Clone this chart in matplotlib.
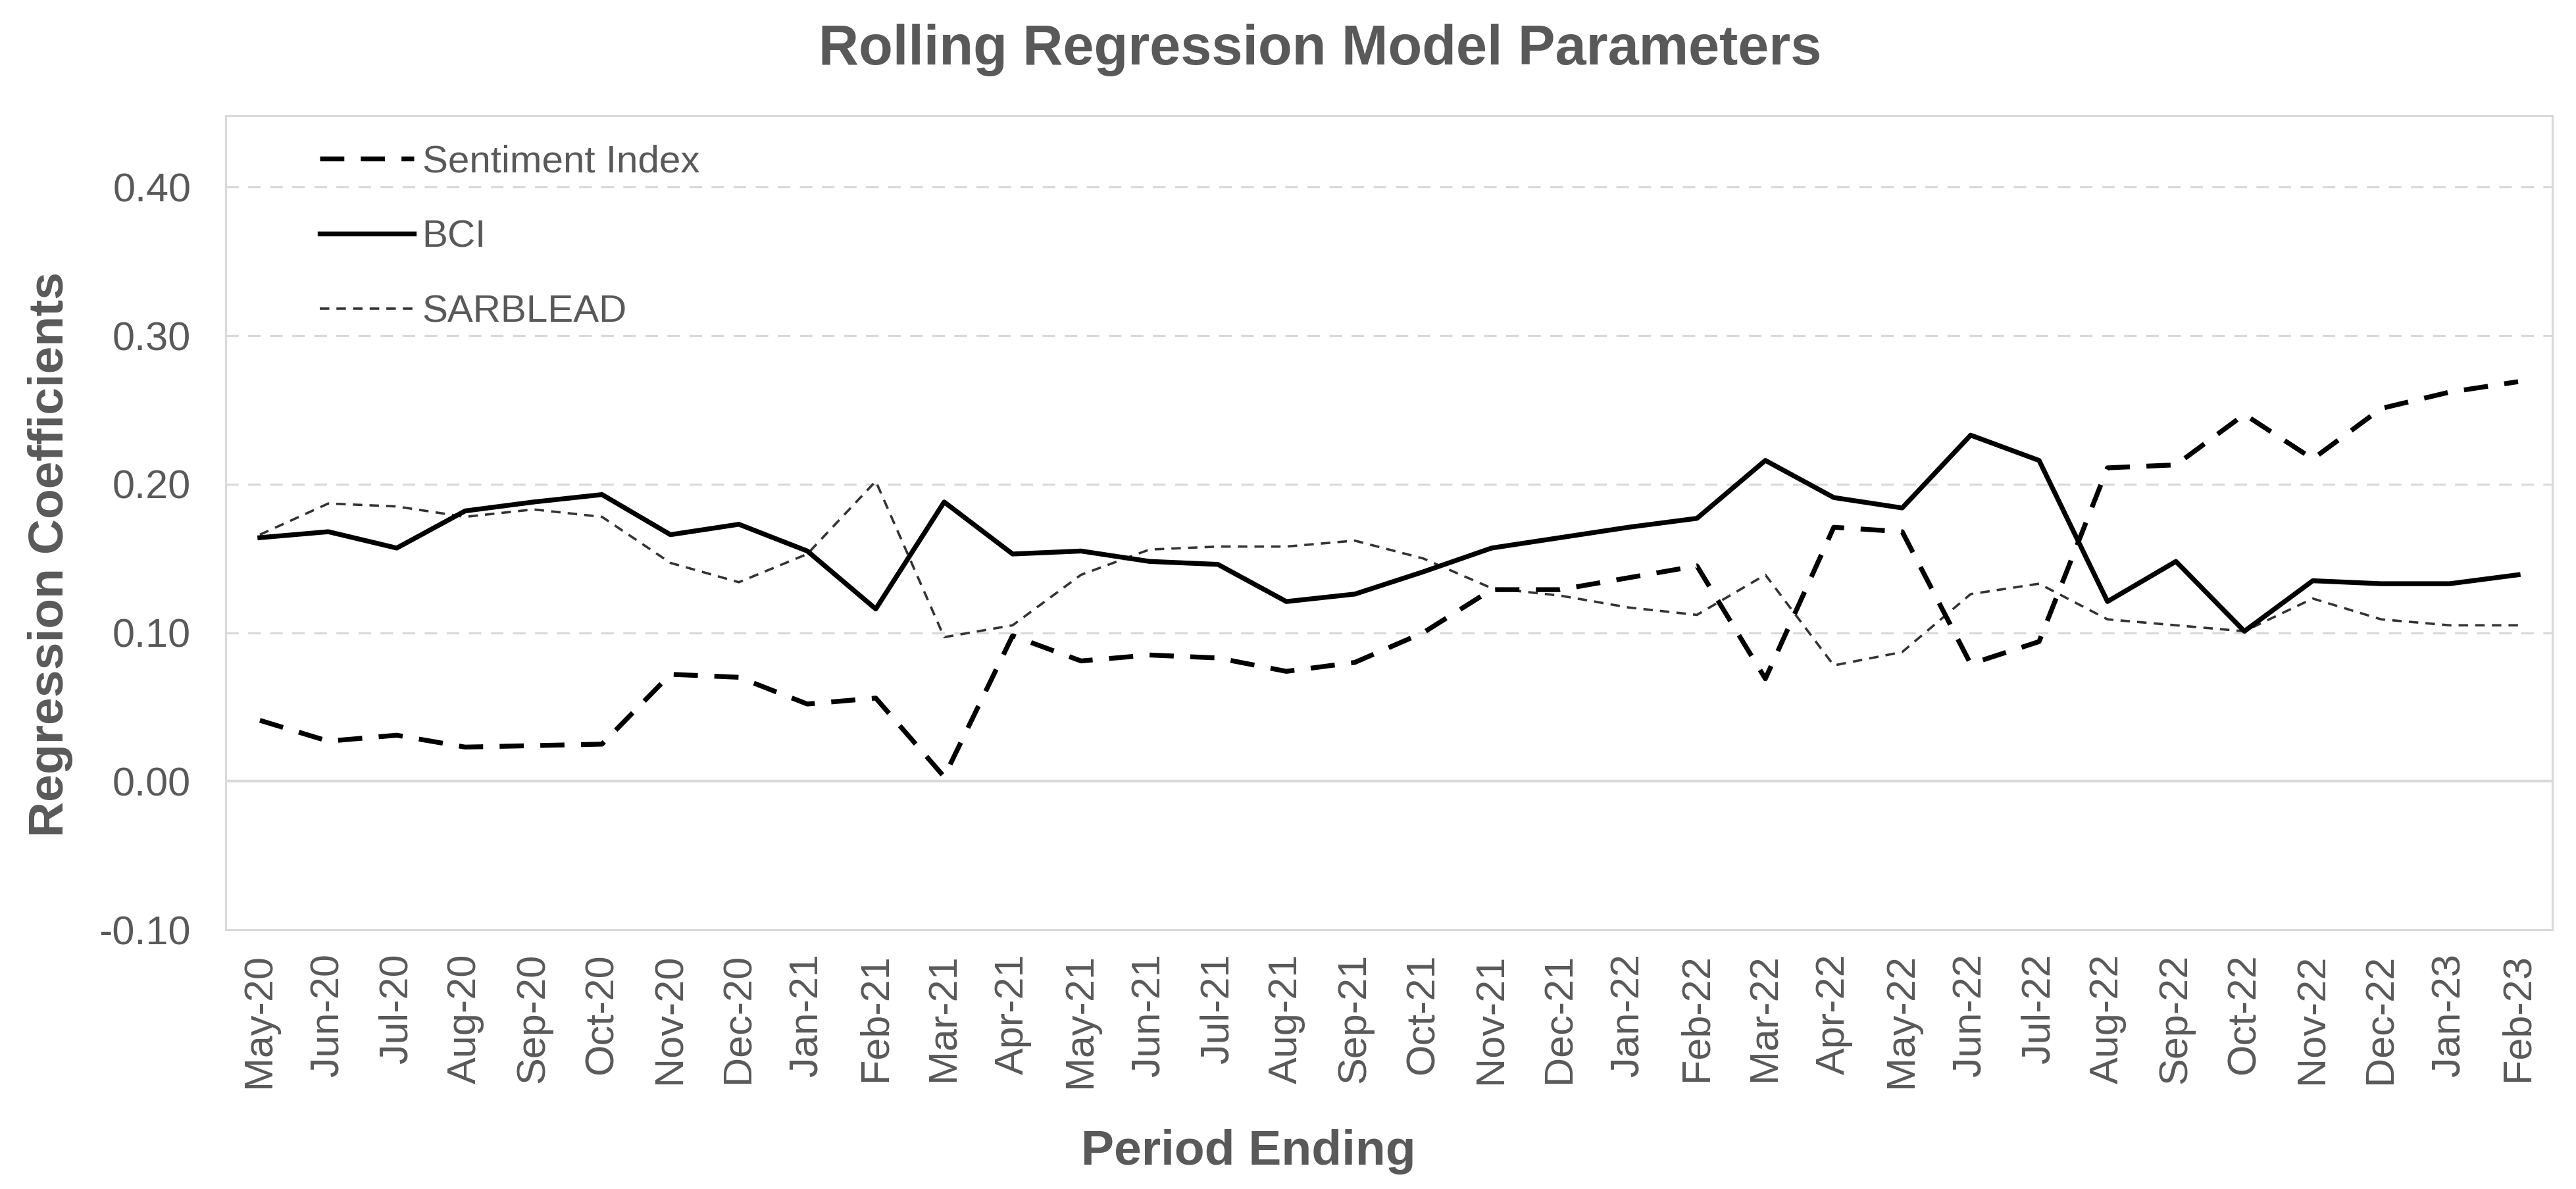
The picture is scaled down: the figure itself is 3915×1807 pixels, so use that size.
import matplotlib
matplotlib.use("Agg")
import matplotlib.pyplot as plt
import numpy as np

plt.rcParams['font.family'] = ['Liberation Sans', 'DejaVu Sans']

# monthly periods
months = ['May-20', 'Jun-20', 'Jul-20', 'Aug-20', 'Sep-20', 'Oct-20', 'Nov-20', 'Dec-20',
          'Jan-21', 'Feb-21', 'Mar-21', 'Apr-21', 'May-21', 'Jun-21', 'Jul-21', 'Aug-21',
          'Sep-21', 'Oct-21', 'Nov-21', 'Dec-21', 'Jan-22', 'Feb-22', 'Mar-22', 'Apr-22',
          'May-22', 'Jun-22', 'Jul-22', 'Aug-22', 'Sep-22', 'Oct-22', 'Nov-22', 'Dec-22',
          'Jan-23', 'Feb-23']

sentiment = [0.041, 0.027, 0.031, 0.023, 0.024, 0.025, 0.072, 0.070,
             0.052, 0.056, 0.003, 0.098, 0.081, 0.085, 0.083, 0.074,
             0.080, 0.100, 0.129, 0.129, 0.137, 0.145, 0.069, 0.171,
             0.168, 0.079, 0.094, 0.211, 0.213, 0.247, 0.217, 0.251,
             0.262, 0.269]

bci = [0.164, 0.168, 0.157, 0.182, 0.188, 0.193, 0.166, 0.173,
       0.155, 0.116, 0.188, 0.153, 0.155, 0.148, 0.146, 0.121,
       0.126, 0.141, 0.157, 0.164, 0.171, 0.177, 0.216, 0.191,
       0.184, 0.233, 0.216, 0.121, 0.148, 0.101, 0.135, 0.133,
       0.133, 0.139]

sarblead = [0.166, 0.187, 0.185, 0.178, 0.183, 0.178, 0.147, 0.134,
            0.153, 0.202, 0.097, 0.105, 0.139, 0.156, 0.158, 0.158,
            0.162, 0.150, 0.130, 0.125, 0.117, 0.112, 0.139, 0.078,
            0.087, 0.126, 0.133, 0.109, 0.105, 0.101, 0.123, 0.109,
            0.105, 0.105]

yticks = [-0.10, 0.00, 0.10, 0.20, 0.30, 0.40]

grey_txt = '#595959'
grid_col = '#d9d9d9'

fig = plt.figure(figsize=(39.15, 18.07), dpi=100)
ax = fig.add_axes([0.0876, 0.218, 0.9032, 0.6846])

x = np.arange(len(months))

ax.plot(x, sentiment, color='black', lw=5.3, dashes=(5, 3.4), dash_capstyle='butt',
        label='Sentiment Index', zorder=3)
ax.plot(x, bci, color='black', lw=5.3, label='BCI', zorder=4)
ax.plot(x, sarblead, color='#333333', lw=2.6, dashes=(4, 3), dash_capstyle='butt',
        label='SARBLEAD', zorder=2)

ax.set_xlim(-0.5, len(months) - 0.5)
ax.set_ylim(-0.10, 0.448)

# gridlines
for yv in yticks[2:]:
    ax.axhline(yv, color=grid_col, lw=2.3, dashes=(6, 4.5), zorder=1)
ax.axhline(0.0, color=grid_col, lw=3, zorder=1)

for sp in ax.spines.values():
    sp.set_color(grid_col)
    sp.set_linewidth(2.2)

ax.set_yticks(yticks)
ax.set_yticklabels(['%.2f' % v for v in yticks])
ax.set_xticks(x)
ax.set_xticklabels(months, rotation=90, va='top', ha='center')
ax.tick_params(axis='x', length=0, pad=26, labelsize=44, labelcolor=grey_txt)
ax.tick_params(axis='y', length=0, pad=38, labelsize=44, labelcolor=grey_txt)

fig.text(0.0195, 0.5335, 'Regression Coefficients', rotation=90, ha='center', va='center',
         fontsize=54, fontweight='bold', color=grey_txt)
fig.text(0.4846, 0.031, 'Period Ending', ha='center', va='center',
         fontsize=54, fontweight='bold', color=grey_txt)
fig.text(0.5125, 0.958, 'Rolling Regression Model Parameters', ha='center', va='center',
         fontsize=61, fontweight='bold', color=grey_txt)

leg = ax.legend(loc='upper left', bbox_to_anchor=(0.0404, 0.965), frameon=False,
                fontsize=42, handlelength=2.45, handletextpad=0.22, labelspacing=1.03,
                borderpad=0, borderaxespad=0)
for t in leg.get_texts():
    t.set_color(grey_txt)

fig.savefig('out.png', dpi=100, facecolor='white')
